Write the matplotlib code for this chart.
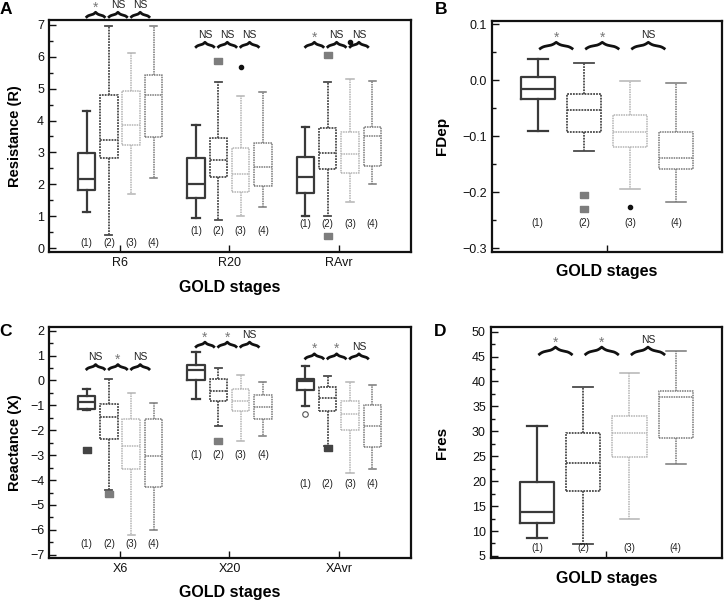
import numpy as np
import matplotlib
matplotlib.use("Agg")
import matplotlib.pyplot as plt
from matplotlib.ticker import MultipleLocator

plt.rcParams["font.family"] = ["Liberation Sans", "DejaVu Sans"]

# box stats per box: [whisker low, Q1, median, Q3, whisker high]
resistance_groups = ["R6", "R20", "RAvr"]
r6 = [[1.14, 1.83, 2.16, 2.97, 4.31], [0.41, 2.84, 3.38, 4.79, 6.97],
      [1.69, 3.22, 3.87, 4.94, 6.12], [2.19, 3.49, 4.81, 5.44, 6.95]]
r20 = [[0.95, 1.56, 2.00, 2.81, 3.87], [0.88, 2.24, 2.76, 3.46, 5.22],
       [1.02, 1.76, 2.31, 3.13, 4.78], [1.30, 1.95, 2.54, 3.29, 4.90]]
ravr = [[1.02, 1.72, 2.22, 2.87, 3.81], [1.01, 2.47, 2.97, 3.76, 5.22],
        [1.46, 2.35, 2.94, 3.65, 5.30], [2.00, 2.59, 3.52, 3.81, 5.24]]
r_outliers = [[[], [], [], []], [[], [5.87], [5.69], []], [[], [6.05, 0.38], [6.45], []]]
r_sig = [["*", "NS", "NS"], ["NS", "NS", "NS"], ["*", "NS", "NS"]]

reactance_groups = ["X6", "X20", "XAvr"]
x6 = [[-1.20, -1.16, -0.85, -0.62, -0.35], [-4.39, -2.36, -1.48, -0.95, 0.05],
      [-6.20, -3.56, -2.63, -1.56, -0.49], [-6.00, -4.26, -3.03, -1.56, -0.89]]
x20 = [[-0.74, 0.00, 0.42, 0.62, 1.13], [-1.82, -0.82, -0.41, 0.06, 0.49],
       [-2.45, -1.21, -0.82, -0.35, 0.22], [-2.22, -1.56, -1.05, -0.60, -0.05]]
xavr = [[-1.02, -0.38, -0.04, 0.07, 0.58], [-2.65, -1.22, -0.72, -0.25, 0.18],
        [-3.70, -2.00, -1.34, -0.82, -0.05], [-3.56, -2.68, -1.82, -0.98, -0.18]]
x_outliers = [[[-2.79], [-4.55], [], []], [[], [-2.45], [], []], [[-1.36], [-2.70], [], []]]
x_sig = [["NS", "*", "NS"], ["*", "*", "NS"], ["*", "*", "NS"]]

fdep = [[-0.090, -0.034, -0.015, 0.005, 0.038], [-0.126, -0.092, -0.053, -0.025, 0.030],
        [-0.194, -0.119, -0.093, -0.063, -0.002], [-0.218, -0.159, -0.138, -0.092, -0.006]]
fdep_outliers = [[], [-0.204, -0.230], [-0.226], []]
fdep_sig = ["*", "*", "NS"]

fres = [[8.6, 11.7, 13.8, 19.9, 31.1], [7.35, 18.05, 23.7, 29.6, 38.8],
        [12.5, 24.8, 29.6, 33.0, 41.8], [23.4, 28.7, 36.8, 38.0, 46.1]]
fres_outliers = [[], [], [], []]
fres_sig = ["*", "*", "NS"]

stage_labels = ["(1)", "(2)", "(3)", "(4)"]

# styles for the four GOLD stages
STYLES = [
    dict(color="#3a3a3a", ls="-", lw=1.6),
    dict(color="#4a4a4a", ls=(0, (1, 0.6)), lw=1.3),
    dict(color="#b4b4b4", ls=(0, (1, 0.6)), lw=1.1),
    dict(color="#787878", ls=(0, (1, 0.6)), lw=1.1),
]
RECT = [(-1.5, -1), (1.5, -1), (1.5, 1), (-1.5, 1), (-1.5, -1)]
FLIERS = {
    "sq": dict(marker=RECT, markersize=6, markerfacecolor="#7d7d7d", markeredgecolor="#7d7d7d"),
    "sqd": dict(marker=RECT, markersize=6, markerfacecolor="#444444", markeredgecolor="#444444"),
    "dot": dict(marker="o", markersize=3, markerfacecolor="#111111", markeredgecolor="#111111"),
    "ring": dict(marker="o", markersize=4, markerfacecolor="white", markeredgecolor="#555555",
                 markeredgewidth=0.8),
}
r_flier_kind = [["sqd", "sq", "dot", "sq"], ["sqd", "sq", "dot", "sq"], ["sqd", "sq", "dot", "sq"]]
x_flier_kind = [["sqd", "sq", "dot", "sq"], ["sqd", "sq", "dot", "sq"], ["ring", "sqd", "dot", "sq"]]
single_flier_kind = ["sqd", "sq", "dot", "sq"]


def draw_box(ax, stats, pos, width, capw, k, fliers, kind):
    st = dict(whislo=stats[0], q1=stats[1], med=stats[2], q3=stats[3], whishi=stats[4],
              fliers=fliers)
    s = STYLES[k]
    line = dict(color=s["color"], linestyle=s["ls"], linewidth=s["lw"])
    cap = dict(color=s["color"], linestyle="-", linewidth=s["lw"])
    ax.bxp([st], positions=[pos], widths=[width], capwidths=[capw],
           boxprops=line, whiskerprops=line, medianprops=line, capprops=cap,
           flierprops=FLIERS[kind], showfliers=True, manage_ticks=False)


def brace(ax, x0, x1, y, h, lw=2.0):
    """Curly brace pointing up, ends at y, tip at y + h (data units)."""
    n = 201
    x = np.linspace(x0, x1, n)
    half = x[: n // 2 + 1]
    beta = 14.0 / (x1 - x0)
    yh = 1 / (1 + np.exp(-beta * (half - half[0]))) + 1 / (1 + np.exp(-beta * (half - half[-1])))
    yy = np.concatenate((yh, yh[-2::-1]))
    yy = (yy - yy.min()) / (yy.max() - yy.min())
    ax.plot(x, y + h * yy, color="#111111", lw=lw, clip_on=False, solid_capstyle="butt")


def sig_text(ax, x, y, s):
    if s == "*":
        ax.annotate(s, (x, y), xytext=(0, 0.5), textcoords="offset points", ha="center",
                    va="baseline", fontsize=10, color="#777777", annotation_clip=False)
    else:
        ax.annotate(s, (x, y), xytext=(0, 3), textcoords="offset points", ha="center",
                    va="baseline", fontsize=7.5, color="#222222", annotation_clip=False)


def style_axes(ax):
    for sp in ax.spines.values():
        sp.set_linewidth(1.6)
        sp.set_color("#111111")
    ax.tick_params(which="both", direction="in", top=False, right=False, labelsize=9,
                   colors="#111111")
    ax.tick_params(which="major", length=5, width=1)
    ax.tick_params(which="minor", length=3, width=1)
    ax.tick_params(axis="x", which="minor", bottom=False)


fig = plt.figure(figsize=(7.25, 6.02), dpi=100)
W, H = 725.0, 602.0


def add_axes(l, r, t, b):
    return fig.add_axes([l / W, 1 - b / H, (r - l) / W, (b - t) / H])


axA = add_axes(49, 411, 20, 252)
axB = add_axes(491.7, 722, 20.7, 251.7)
axC = add_axes(49, 411, 326.7, 558)
axD = add_axes(490.7, 722, 327.3, 558.3)

# grouped panels (A, C)
spacing = 0.204
offsets = [(k - 1.5) * spacing for k in range(4)]


def grouped_panel(ax, groups, data, outliers, kinds, sigs, ylim, brace_y, label_y, brace_px,
                  ylabel, major, minor):
    ax.set_xlim(0.35, 3.66)
    ax.set_ylim(*ylim)
    span = ylim[1] - ylim[0]
    h = brace_px / 232.0 * span
    for g in range(3):
        c = g + 1
        for k in range(4):
            pos = c + offsets[k]
            draw_box(ax, data[g][k], pos, 0.16, 0.065, k, outliers[g][k], kinds[g][k])
            ax.text(pos, label_y[g], stage_labels[k], ha="center", va="center", fontsize=7,
                    color="#222222")
        for j in range(3):
            mid = c + (offsets[j] + offsets[j + 1]) / 2 - 0.02
            brace(ax, mid - 0.09, mid + 0.09, brace_y[g], h)
            sig_text(ax, mid, brace_y[g] + h, sigs[g][j])
    ax.set_xticks([1, 2, 3])
    ax.set_xticklabels(groups)
    ax.yaxis.set_major_locator(MultipleLocator(major))
    ax.yaxis.set_minor_locator(MultipleLocator(minor))
    ax.set_ylabel(ylabel, fontsize=10.5, fontweight="bold")
    style_axes(ax)


grouped_panel(axA, resistance_groups, [r6, r20, ravr], r_outliers, r_flier_kind, r_sig,
              (-0.12, 7.15), [7.22, 6.28, 6.28], [0.15, 0.55, 0.75], 5.5,
              "Resistance (R)", 1, 0.5)
grouped_panel(axC, reactance_groups, [x6, x20, xavr], x_outliers, x_flier_kind, x_sig,
              (-7.13, 2.16), [0.42, 1.32, 0.85], [-6.57, -2.99, -4.15], 5.5,
              "Reactance (X)", 1, 0.5)


def single_panel(ax, data, outliers, sigs, ylim, brace_y, label_y, brace_px, ylabel,
                 major, minor, fmt):
    ax.set_xlim(0, 5)
    ax.set_ylim(*ylim)
    span = ylim[1] - ylim[0]
    h = brace_px / 232.0 * span
    for k in range(4):
        pos = k + 1
        draw_box(ax, data[k], pos, 0.74, 0.43, k, outliers[k], single_flier_kind[k])
        ax.text(pos, label_y, stage_labels[k], ha="center", va="center", fontsize=7,
                color="#222222")
    for j in range(3):
        mid = j + 1.5 - 0.1
        brace(ax, mid - 0.37, mid + 0.37, brace_y, h)
        sig_text(ax, mid, brace_y + h, sigs[j])
    ax.set_xticks([2.5])
    ax.set_xticklabels([""])
    ax.yaxis.set_major_locator(MultipleLocator(major))
    ax.yaxis.set_minor_locator(MultipleLocator(minor))
    if fmt:
        ax.yaxis.set_major_formatter(fmt)
    ax.set_ylabel(ylabel, fontsize=11, fontweight="bold")
    style_axes(ax)


single_panel(axB, fdep, fdep_outliers, fdep_sig, (-0.306, 0.106), 0.055, -0.255, 7,
             "FDep", 0.1, 0.05, lambda v, p: f"{v:.1f}".replace("-", "\u2212"))
single_panel(axD, fres, fres_outliers, fres_sig, (4.53, 50.87), 45.3, 6.55, 8,
             "Fres", 5, 2.5, None)

# axis label placement
axA.yaxis.set_label_coords(-0.095, 0.5)
axC.yaxis.set_label_coords(-0.095, 0.5)
axB.yaxis.set_label_coords(-0.215, 0.5)
axD.yaxis.set_label_coords(-0.21, 0.5)
for ax in (axA, axB, axC, axD):
    ax.yaxis.label.set_verticalalignment("center")
for ax, yoff in [(axA, -0.151), (axB, -0.087), (axC, -0.151), (axD, -0.086)]:
    ax.set_xlabel("GOLD stages", fontsize=11.5, fontweight="bold")
    ax.xaxis.set_label_coords(0.5, yoff)
    ax.xaxis.label.set_verticalalignment("center")

# panel letters
for letter, x, y in [("A", 6, 9), ("B", 441, 9), ("C", 6, 332), ("D", 440, 332)]:
    fig.text(x / W, 1 - y / H, letter, ha="center", va="center", fontsize=12.5,
             fontweight="bold")

fig.savefig("out.png", dpi=100)
